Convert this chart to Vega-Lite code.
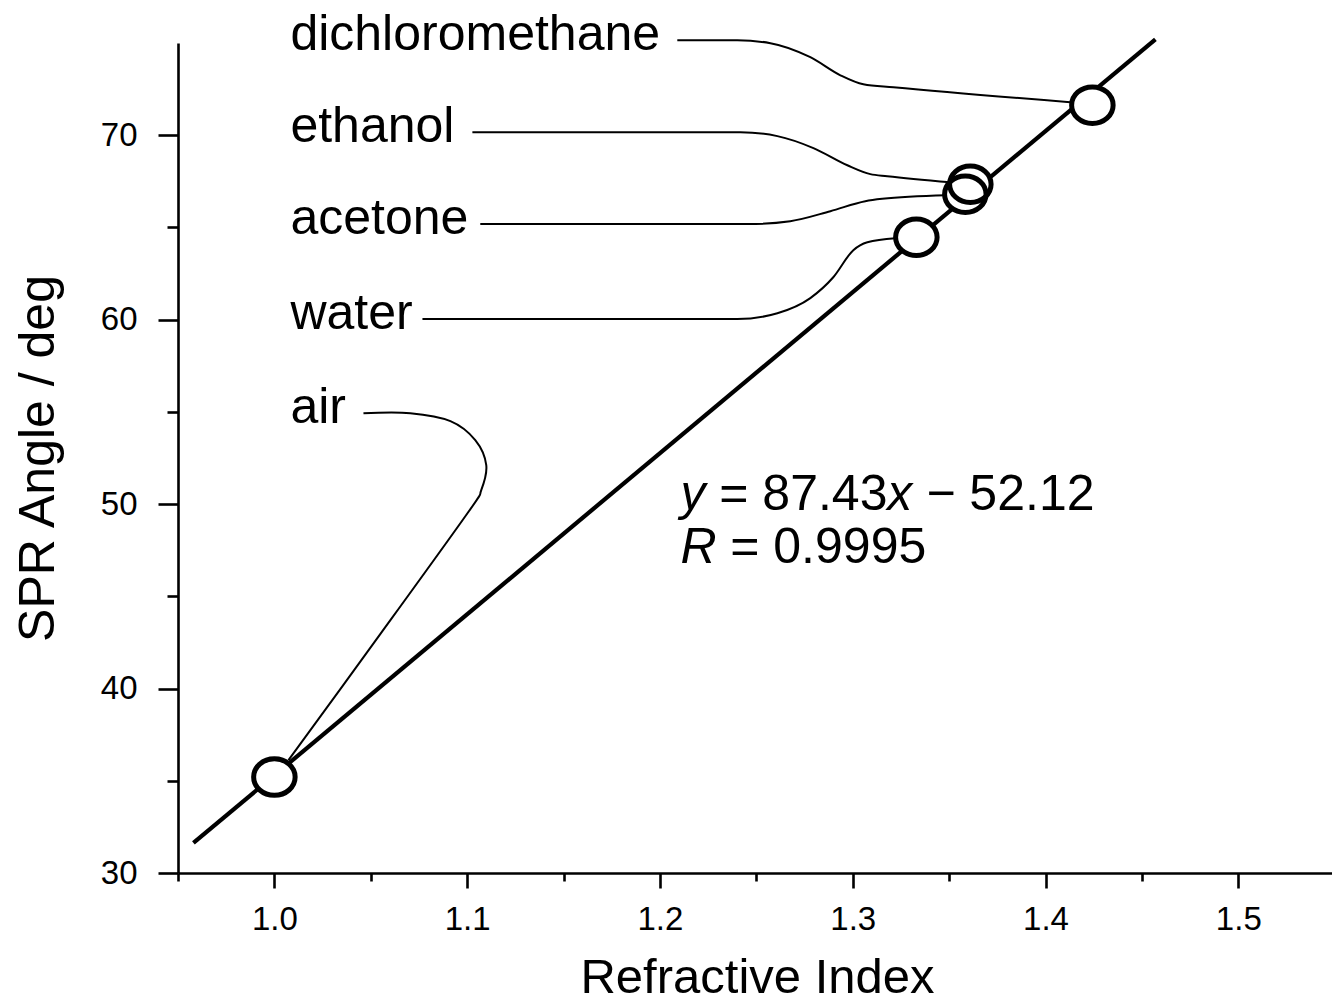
{
  "$schema": "https://vega.github.io/schema/vega-lite/v6.json",
  "width": 1154,
  "height": 830,
  "autosize": "none",
  "padding": {"left": 178, "top": 43, "right": 0, "bottom": 131},
  "background": "white",
  "config": {
    "font": "Liberation Sans",
    "view": {"stroke": null},
    "axis": {"grid": false, "domainColor": "black", "tickColor": "black", "labelColor": "black", "titleColor": "black", "domainWidth": 2.6, "tickWidth": 2.6, "labelFont": "Liberation Sans", "titleFont": "Liberation Sans", "titleFontWeight": "normal", "labelOverlap": false, "labelFlush": false}
  },
  "datasets": {
    "points": [
      {"name": "air", "x": 1.0, "y": 35.2},
      {"name": "water", "x": 1.333, "y": 64.47},
      {"name": "acetone", "x": 1.3584, "y": 66.8},
      {"name": "ethanol", "x": 1.361, "y": 67.34},
      {"name": "dichloromethane", "x": 1.4243, "y": 71.63}
    ],
    "fit": [
      {"x": 0.958, "y": 31.63},
      {"x": 1.457, "y": 75.2}
    ],
    "connectors": [
      {"name": "dichloromethane", "o": 1, "x": 1.209, "y": 75.15},
      {"name": "dichloromethane", "o": 2, "x": 1.2401, "y": 75.15},
      {"name": "dichloromethane", "o": 3, "x": 1.2573, "y": 74.99},
      {"name": "dichloromethane", "o": 4, "x": 1.278, "y": 74.23},
      {"name": "dichloromethane", "o": 5, "x": 1.2936, "y": 73.25},
      {"name": "dichloromethane", "o": 6, "x": 1.3055, "y": 72.76},
      {"name": "dichloromethane", "o": 7, "x": 1.3211, "y": 72.6},
      {"name": "dichloromethane", "o": 8, "x": 1.4129, "y": 71.79},
      {"name": "ethanol", "o": 1, "x": 1.1027, "y": 70.16},
      {"name": "ethanol", "o": 2, "x": 1.2417, "y": 70.16},
      {"name": "ethanol", "o": 3, "x": 1.2609, "y": 69.95},
      {"name": "ethanol", "o": 4, "x": 1.2796, "y": 69.3},
      {"name": "ethanol", "o": 5, "x": 1.2972, "y": 68.37},
      {"name": "ethanol", "o": 6, "x": 1.3091, "y": 67.89},
      {"name": "ethanol", "o": 7, "x": 1.3179, "y": 67.78},
      {"name": "ethanol", "o": 8, "x": 1.3506, "y": 67.45},
      {"name": "acetone", "o": 1, "x": 1.1068, "y": 65.18},
      {"name": "acetone", "o": 2, "x": 1.2453, "y": 65.18},
      {"name": "acetone", "o": 3, "x": 1.2676, "y": 65.34},
      {"name": "acetone", "o": 4, "x": 1.2884, "y": 65.88},
      {"name": "acetone", "o": 5, "x": 1.3065, "y": 66.42},
      {"name": "acetone", "o": 6, "x": 1.3153, "y": 66.55},
      {"name": "acetone", "o": 7, "x": 1.3485, "y": 66.75},
      {"name": "water", "o": 1, "x": 1.0768, "y": 60.03},
      {"name": "water", "o": 2, "x": 1.2401, "y": 60.03},
      {"name": "water", "o": 3, "x": 1.2609, "y": 60.35},
      {"name": "water", "o": 4, "x": 1.278, "y": 61.17},
      {"name": "water", "o": 5, "x": 1.2899, "y": 62.3},
      {"name": "water", "o": 6, "x": 1.3003, "y": 63.77},
      {"name": "water", "o": 7, "x": 1.3076, "y": 64.2},
      {"name": "water", "o": 8, "x": 1.3221, "y": 64.42}
    ],
    "air": [
      {"o": 1, "x": 1.0462, "y": 54.93},
      {"o": 2, "x": 1.0705, "y": 54.93},
      {"o": 3, "x": 1.0913, "y": 54.5},
      {"o": 4, "x": 1.1042, "y": 53.47},
      {"o": 5, "x": 1.1099, "y": 52.11},
      {"o": 6, "x": 1.1073, "y": 50.76},
      {"o": 7, "x": 1.1006, "y": 49.57},
      {"o": 8, "x": 1.0550, "y": 42.96},
      {"o": 9, "x": 1.0073, "y": 36.12}
    ],
    "labels": [
      {"text": "dichloromethane", "x": 1.0083, "y": 74.61},
      {"text": "ethanol", "x": 1.0083, "y": 69.62},
      {"text": "acetone", "x": 1.0083, "y": 64.63},
      {"text": "water", "x": 1.0083, "y": 59.49},
      {"text": "air", "x": 1.0083, "y": 54.39}
    ],
    "eq": [
      {"text": "y", "style": "italic", "x": 1.2106, "y": 49.67},
      {"text": "=", "style": "normal", "x": 1.2308, "y": 49.67},
      {"text": "87.43", "style": "normal", "x": 1.2531, "y": 49.67},
      {"text": "x", "style": "italic", "x": 1.3179, "y": 49.67},
      {"text": "−", "style": "normal", "x": 1.3382, "y": 49.67},
      {"text": "52.12", "style": "normal", "x": 1.3605, "y": 49.67},
      {"text": "R", "style": "italic", "x": 1.2106, "y": 46.8},
      {"text": "=", "style": "normal", "x": 1.2365, "y": 46.8},
      {"text": "0.9995", "style": "normal", "x": 1.2588, "y": 46.8}
    ]
  },
  "encoding": {
    "x": {
      "field": "x", "type": "quantitative",
      "scale": {"domain": [0.95, 1.5486], "nice": false, "zero": false},
      "axis": {
        "title": "Refractive Index",
        "titleFontSize": 49,
        "titleBaseline": "alphabetic",
        "titleAlign": "center",
        "titleX": 579,
        "titleY": 119,
        "values": [0.95, 1.0, 1.05, 1.1, 1.15, 1.2, 1.25, 1.3, 1.35, 1.4, 1.45, 1.5],
        "labelExpr": "round(datum.value*100) % 10 === 0 ? format(datum.value, '.1f') : ''",
        "labelFontSize": 33,
        "labelBaseline": "alphabetic",
        "labelPadding": 41,
        "tickSize": {"condition": {"test": "round(datum.value*100) % 10 !== 0", "value": 8}, "value": 15}
      }
    },
    "y": {
      "field": "y", "type": "quantitative",
      "scale": {"domain": [30, 75], "nice": false, "zero": false},
      "axis": {
        "title": "SPR Angle / deg",
        "titleFontSize": 50,
        "titleAngle": -90,
        "titleBaseline": "alphabetic",
        "titleAlign": "center",
        "titleX": -125,
        "titleY": 415,
        "values": [30, 35, 40, 45, 50, 55, 60, 65, 70],
        "labelExpr": "datum.value % 10 === 0 ? datum.label : ''",
        "labelFontSize": 33,
        "labelPadding": 21,
        "tickSize": {"condition": {"test": "datum.value % 10 !== 0", "value": 11}, "value": 20}
      }
    }
  },
  "layer": [
    {
      "data": {"name": "fit"},
      "mark": {"type": "line", "color": "black", "strokeWidth": 4.2, "strokeCap": "butt"}
    },
    {
      "data": {"name": "connectors"},
      "mark": {"type": "line", "color": "black", "strokeWidth": 2, "interpolate": "monotone"},
      "encoding": {"detail": {"field": "name"}, "order": {"field": "o", "type": "quantitative"}}
    },
    {
      "data": {"name": "air"},
      "mark": {"type": "line", "color": "black", "strokeWidth": 2, "interpolate": "cardinal"},
      "encoding": {"order": {"field": "o", "type": "quantitative"}}
    },
    {
      "data": {"name": "points"},
      "mark": {"type": "point", "shape": "M-1,0A1,0.88,0,1,1,1,0A1,0.88,0,1,1,-1,0Z", "size": 1600, "filled": true, "fill": "white", "fillOpacity": 1, "strokeWidth": 0, "opacity": 1}
    },
    {
      "data": {"name": "points"},
      "mark": {"type": "point", "shape": "M-1,0A1,0.88,0,1,1,1,0A1,0.88,0,1,1,-1,0Z", "size": 1722, "filled": false, "fillOpacity": 0, "stroke": "black", "strokeWidth": 5, "opacity": 1}
    },
    {
      "data": {"name": "labels"},
      "mark": {"type": "text", "align": "left", "baseline": "alphabetic", "fontSize": 50, "font": "Liberation Sans", "color": "black"},
      "encoding": {"text": {"field": "text"}}
    },
    {
      "data": {"name": "eq"},
      "transform": [{"filter": "datum.style === 'normal'"}],
      "mark": {"type": "text", "align": "left", "baseline": "alphabetic", "fontSize": 50, "font": "Liberation Sans", "color": "black"},
      "encoding": {"text": {"field": "text"}}
    },
    {
      "data": {"name": "eq"},
      "transform": [{"filter": "datum.style === 'italic'"}],
      "mark": {"type": "text", "align": "left", "baseline": "alphabetic", "fontSize": 50, "font": "Liberation Sans", "fontStyle": "italic", "color": "black"},
      "encoding": {"text": {"field": "text"}}
    }
  ]
}
